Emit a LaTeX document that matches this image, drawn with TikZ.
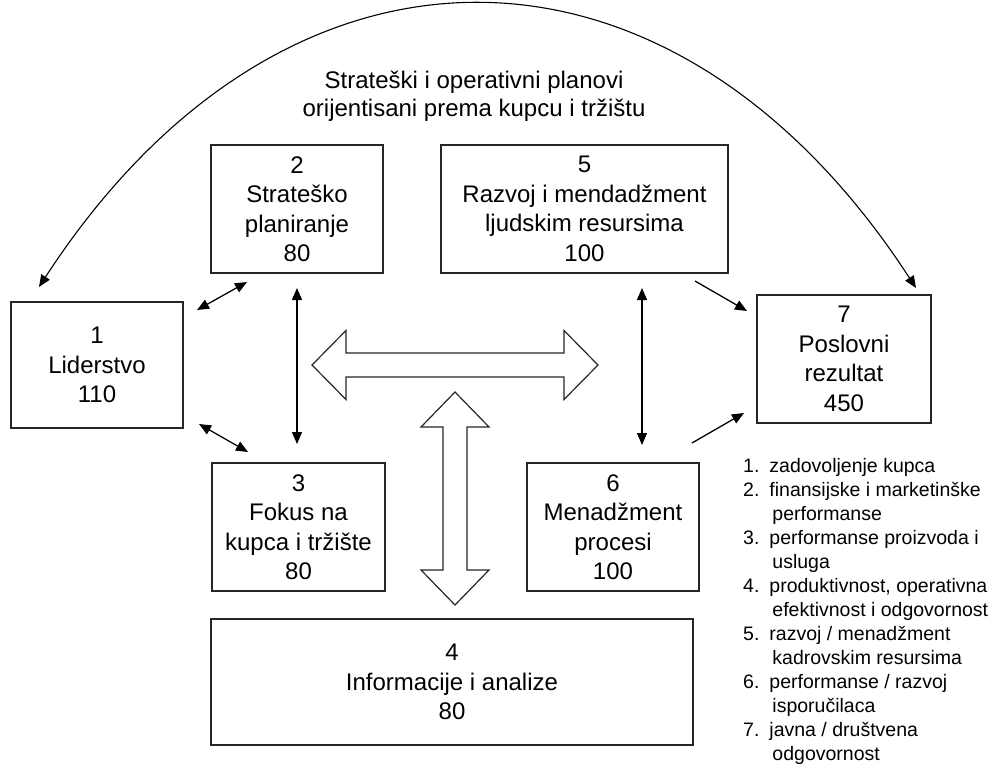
\documentclass[tikz,border=0pt]{standalone}
\usepackage{fontspec}
\setmainfont{Liberation Sans}
\usetikzlibrary{arrows.meta}
\newcommand{\contline}{\hspace*{3pt}}
\begin{document}
\begin{tikzpicture}[x=1pt,y=-1pt,
  boxline/.style={draw=black!85,line width=1.3pt},
  stepbox/.style={boxline,inner sep=0pt,align=center,
    font=\fontsize{24}{29.5}\selectfont},
  link/.style={draw=black,line width=1.3pt,
    arrows={-Triangle[length=12pt,width=10pt]}},
  duallink/.style={link,arrows={Triangle[length=12pt,width=10pt]-Triangle[length=12pt,width=10pt]}},
  blockarrow/.style={boxline,line width=1.2pt,fill=white,line join=miter}]
\useasboundingbox (0,0) rectangle (995,767);

% criteria boxes
\node[stepbox,minimum width=172pt,minimum height=126pt] (b1) at (97,365) {1\\Liderstvo\\110};
\node[stepbox,minimum width=172pt,minimum height=128pt] (b2) at (297,209) {2\\Strateško\\planiranje\\80};
\node[stepbox,minimum width=287pt,minimum height=128pt] (b5) at (584.5,209) {5\\Razvoj i mendadžment\\ljudskim resursima\\100};
\node[stepbox,minimum width=174pt,minimum height=128pt] (b7) at (844,359) {7\\Poslovni\\rezultat\\450};
\node[stepbox,minimum width=173pt,minimum height=128pt] (b3) at (298.5,527) {3\\Fokus na\\kupca i tržište\\80};
\node[stepbox,minimum width=172pt,minimum height=128pt] (b6) at (613,527) {6\\Menadžment\\procesi\\100};
\node[stepbox,minimum width=482pt,minimum height=126pt] (b4) at (452,682) {4\\Informacije i analize\\80};

% heading over the arc
\node[align=center,font=\fontsize{24}{28}\selectfont] (plan) at (474,96)
  {Strateški i operativni planovi\\orijentisani prema kupcu i tržištu};

% arc from leadership to results
\coordinate (arcL) at (39,287);
\coordinate (arcR) at (916,288);
\draw[duallink,line width=1.1pt] (arcL) .. controls (284,-90) and (671,-89) .. (arcR);

% short links between boxes
\coordinate (l12a) at (197,310);  \coordinate (l12b) at (247,282);
\coordinate (l13a) at (199,424);  \coordinate (l13b) at (248,452);
\coordinate (l23a) at (297,288);  \coordinate (l23b) at (297,444);
\coordinate (l56a) at (642,288);  \coordinate (l56b) at (642,445);
\coordinate (l57a) at (695,281);  \coordinate (l57b) at (747,311);
\coordinate (l67a) at (692,443);  \coordinate (l67b) at (744,413);
\draw[duallink] (l12a) -- (l12b);
\draw[duallink] (l13a) -- (l13b);
\draw[duallink] (l23a) -- (l23b);
\draw[duallink] (l56a) -- (l56b);
\draw[link] (l57a) -- (l57b);
\draw[link] (l67a) -- (l67b);

% hollow block arrows in the middle
\draw[blockarrow] (312,365) -- (346,330.5) -- (346,353) -- (564,353) -- (564,330.5)
  -- (598,365) -- (564,399.5) -- (564,377) -- (346,377) -- (346,399.5) -- cycle;
\draw[blockarrow] (455,392) -- (489,427) -- (467,427) -- (467,570) -- (489,570)
  -- (455,605) -- (421,570) -- (443,570) -- (443,427) -- (421,427) -- cycle;

% list of result categories
\node[anchor=base west,inner sep=0pt,font=\fontsize{19.5}{24}\selectfont] (list) at (743,472)
{\begin{tabular}[t]{@{}l@{\hspace{10pt}}l@{}}
1. & zadovoljenje kupca\\
2. & finansijske i marketinške\\
   & \contline performanse\\
3. & performanse proizvoda i\\
   & \contline usluga\\
4. & produktivnost, operativna\\
   & \contline efektivnost i odgovornost\\
5. & razvoj / menadžment\\
   & \contline kadrovskim resursima\\
6. & performanse / razvoj\\
   & \contline isporučilaca\\
7. & javna / društvena\\
   & \contline odgovornost
\end{tabular}};
\end{tikzpicture}
\end{document}
